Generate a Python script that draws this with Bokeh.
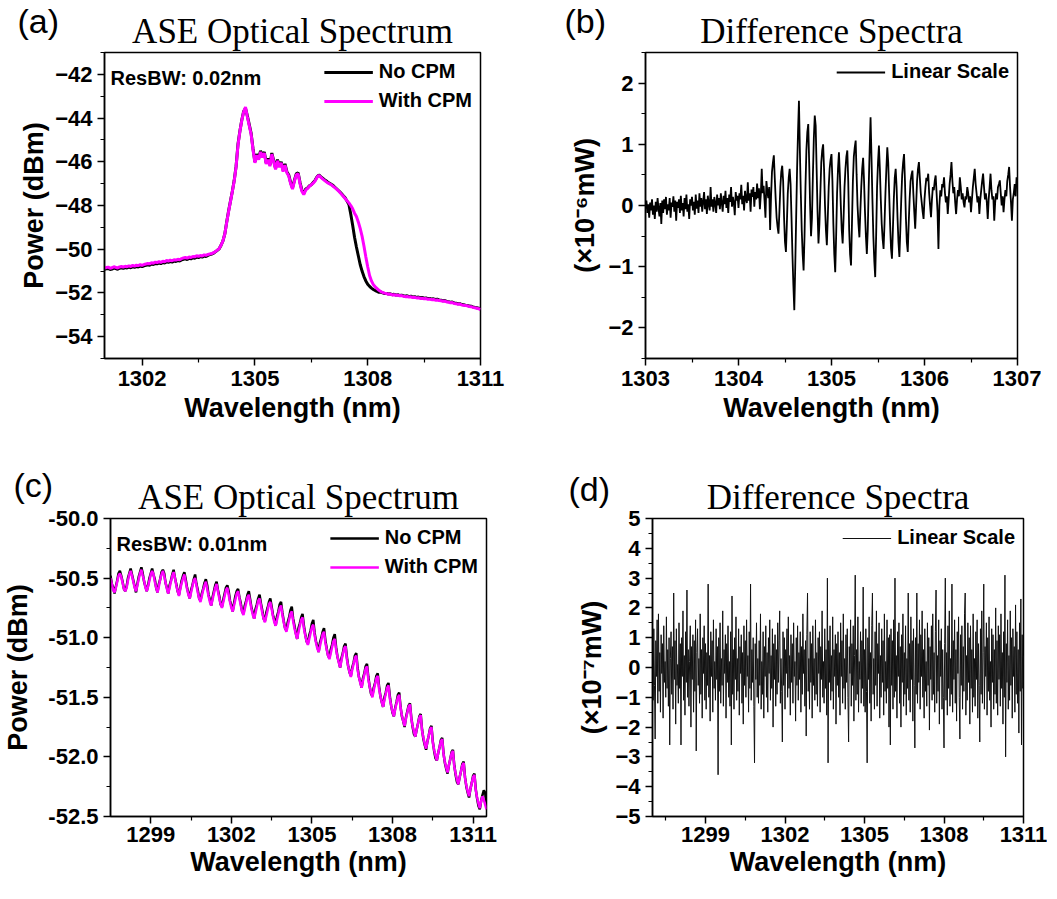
import numpy as np
from bokeh.plotting import figure
from bokeh.layouts import row, column
from bokeh.models import (Range1d, FixedTicker, Label, Legend, LegendItem,
                          NumeralTickFormatter, Title)
from bokeh.embed import file_html
from bokeh.resources import INLINE

# ---------------- data ----------------
# (a) ASE spectrum, 0.02 nm ResBW, sampled 1301..1311 nm every 0.05 nm
A_RANGE = (1301.0, 1311.0)
YA_NO = [
    -50.92, -50.90, -50.88, -50.93, -50.91, -50.86, -50.89, -50.92, -50.87, -50.85,
    -50.88, -50.84, -50.86, -50.82, -50.85, -50.80, -50.83, -50.79, -50.81, -50.77,
    -50.80, -50.76, -50.74, -50.71, -50.73, -50.68, -50.70, -50.65, -50.67, -50.63,
    -50.66, -50.61, -50.63, -50.58, -50.60, -50.56, -50.59, -50.54, -50.56, -50.52,
    -50.54, -50.49, -50.46, -50.44, -50.47, -50.42, -50.44, -50.39, -50.41, -50.36,
    -50.38, -50.34, -50.36, -50.31, -50.33, -50.28, -50.25, -50.22, -50.18, -50.12,
    -50.05, -49.98, -49.82, -49.62, -49.30, -48.75, -48.25, -47.80, -47.35, -46.85,
    -46.20, -45.20, -44.60, -44.10, -43.70, -43.55, -43.90, -44.30, -44.70, -45.40,
    -46.00, -45.65, -45.85, -45.50, -45.75, -45.55, -46.05, -45.85, -46.15, -45.60,
    -45.95, -46.30, -45.90, -46.20, -46.00, -46.40, -46.10, -46.45, -46.60, -46.95,
    -47.20, -46.85, -46.55, -46.50, -46.95, -47.30, -47.45, -47.25, -47.20, -47.10,
    -47.05, -46.95, -46.85, -46.70, -46.60, -46.68, -46.75, -46.82, -46.88, -46.95,
    -47.00, -47.05, -47.12, -47.20, -47.28, -47.36, -47.45, -47.55, -47.65, -47.80,
    -47.95, -48.40, -48.90, -49.45, -49.90, -50.30, -50.70, -51.00, -51.25, -51.45,
    -51.60, -51.70, -51.78, -51.84, -51.89, -51.93, -51.97, -51.96, -52.00, -52.03,
    -52.02, -52.05, -52.04, -52.08, -52.06, -52.10, -52.08, -52.12, -52.10, -52.13,
    -52.15, -52.13, -52.17, -52.15, -52.19, -52.17, -52.21, -52.19, -52.22, -52.21,
    -52.24, -52.23, -52.26, -52.25, -52.28, -52.27, -52.30, -52.29, -52.32, -52.33,
    -52.36, -52.35, -52.39, -52.40, -52.43, -52.42, -52.46, -52.47, -52.50, -52.49,
    -52.53, -52.54, -52.56, -52.57, -52.60, -52.61, -52.64, -52.66, -52.68, -52.70,
    -52.74,
]
YA_CPM = [
    -50.86, -50.84, -50.82, -50.87, -50.85, -50.80, -50.83, -50.86, -50.81, -50.79,
    -50.82, -50.78, -50.80, -50.76, -50.79, -50.74, -50.77, -50.73, -50.75, -50.71,
    -50.74, -50.70, -50.68, -50.65, -50.67, -50.62, -50.64, -50.59, -50.61, -50.57,
    -50.60, -50.55, -50.57, -50.52, -50.54, -50.50, -50.53, -50.48, -50.50, -50.46,
    -50.48, -50.43, -50.40, -50.38, -50.41, -50.36, -50.38, -50.33, -50.35, -50.30,
    -50.33, -50.29, -50.31, -50.26, -50.28, -50.24, -50.22, -50.20, -50.16, -50.11,
    -50.04, -49.97, -49.82, -49.62, -49.30, -48.78, -48.28, -47.82, -47.36, -46.88,
    -46.22, -45.25, -44.62, -44.12, -43.72, -43.50, -43.95, -44.35, -44.75, -45.45,
    -46.05, -45.70, -45.90, -45.55, -45.80, -45.60, -46.10, -45.90, -46.20, -45.65,
    -46.00, -46.35, -45.95, -46.25, -46.05, -46.45, -46.15, -46.50, -46.65, -47.00,
    -47.25, -46.90, -46.60, -46.55, -47.00, -47.35, -47.50, -47.30, -47.22, -47.12,
    -47.05, -46.98, -46.88, -46.72, -46.62, -46.70, -46.78, -46.85, -46.92, -46.98,
    -47.02, -47.08, -47.15, -47.22, -47.30, -47.38, -47.48, -47.58, -47.68, -47.78,
    -47.88, -48.00, -48.15, -48.35, -48.50, -48.75, -49.05, -49.40, -49.85, -50.35,
    -50.80, -51.20, -51.45, -51.62, -51.72, -51.80, -51.88, -51.94, -51.98, -52.01,
    -52.03, -52.06, -52.05, -52.09, -52.08, -52.11, -52.10, -52.13, -52.12, -52.15,
    -52.17, -52.16, -52.19, -52.18, -52.21, -52.20, -52.23, -52.22, -52.25, -52.24,
    -52.27, -52.26, -52.29, -52.28, -52.31, -52.30, -52.33, -52.32, -52.35, -52.36,
    -52.38, -52.37, -52.41, -52.42, -52.45, -52.44, -52.48, -52.49, -52.52, -52.51,
    -52.55, -52.56, -52.58, -52.59, -52.62, -52.63, -52.66, -52.68, -52.70, -52.72,
    -52.76,
]

# (b) difference spectrum (x1e-6 mW), 1303..1307 nm every 0.01 nm
B_RANGE = (1303.0, 1307.0)
YB = [
    -0.05, 0.08, -0.12, 0.02, -0.20, 0.05, -0.08, 0.10, -0.15, 0.00, -0.22, 0.06, -0.10, 0.12, -0.05, -0.18, 0.04, -0.30, 0.08, -0.12,
    0.10, -0.06, 0.14, -0.15, 0.02, -0.08, 0.12, -0.20, 0.05, -0.02, 0.15, -0.10, 0.08, -0.25, 0.06, -0.04, 0.10, -0.12, 0.16, -0.08,
    0.04, -0.18, 0.12, -0.06, 0.18, -0.10, 0.02, -0.22, 0.10, 0.00, 0.14, -0.08, 0.06, -0.15, 0.18, -0.05, 0.08, -0.12, 0.20, -0.02,
    0.12, -0.10, 0.06, 0.22, -0.06, 0.10, -0.14, 0.16, 0.02, -0.08, 0.30, -0.02, 0.10, -0.10, 0.14, 0.04, -0.12, 0.18, 0.00, 0.12,
    -0.06, 0.20, 0.04, -0.10, 0.16, 0.02, 0.24, -0.04, 0.12, -0.12, 0.18, 0.06, 0.30, -0.02, 0.14, 0.04, -0.16, 0.22, 0.08, 0.16,
    -0.04, 0.20, 0.10, 0.34, 0.02, 0.16, -0.08, 0.24, 0.10, 0.04, 0.38, 0.08, 0.20, -0.10, 0.26, 0.14, 0.30, -0.02, 0.22, 0.10,
    0.36, 0.12, 0.28, -0.06, 0.18, 0.60, 0.20, 0.32, 0.08, -0.20, 0.40, 0.24, 0.12, 0.30, -0.40, 0.15, 0.55, 0.70, 0.82, 0.45,
    0.10, -0.20, -0.35, -0.46, -0.10, 0.30, 0.55, 0.65, 0.40, -0.20, -0.60, -0.76, -0.30, 0.20, 0.45, 0.60, 0.35, -0.20, -0.80, -1.30,
    -1.71, -1.00, -0.20, 0.60, 1.20, 1.71, 0.90, 0.20, -0.40, -0.80, -1.06, -0.50, 0.30, 0.90, 1.20, 1.33, 0.70, 0.00, -0.50, -0.20,
    0.50, 1.10, 1.47, 1.30, 0.60, -0.10, -0.62, -0.30, 0.20, 0.70, 0.90, 1.00, 0.60, 0.00, -0.40, -0.65, -0.20, 0.30, 0.60, 0.75,
    0.84, 0.40, -0.30, -0.80, -1.09, -0.50, 0.20, 0.60, 0.87, 0.50, 0.00, -0.40, -0.62, -0.20, 0.30, 0.60, 0.80, 0.90, 0.40, -0.40,
    -0.80, -0.98, -0.30, 0.40, 0.80, 0.95, 1.06, 0.50, 0.00, -0.30, -0.52, -0.10, 0.30, 0.60, 0.78, 0.40, -0.10, -0.50, -0.79, -0.40,
    0.30, 0.90, 1.44, 0.80, 0.10, -0.50, -0.90, -1.17, -0.50, 0.30, 0.70, 0.98, 0.60, 0.10, -0.30, -0.55, -0.71, -0.30, 0.20, 0.60,
    0.95, 0.70, 0.20, -0.30, -0.70, -0.87, -0.40, 0.10, 0.45, 0.60, 0.30, -0.20, -0.60, -0.84, -0.40, 0.10, 0.50, 0.70, 0.84, 0.40,
    -0.20, -0.60, -0.76, -0.30, 0.10, 0.40, 0.50, 0.57, 0.20, -0.10, -0.38, 0.00, 0.40, 0.60, 0.71, 0.45, 0.20, 0.05, -0.10, -0.22,
    0.10, 0.30, 0.45, 0.40, 0.52, 0.20, 0.00, -0.19, 0.10, 0.30, 0.25, 0.40, 0.49, 0.20, -0.10, -0.71, 0.00, 0.25, 0.15, 0.35,
    0.30, 0.46, 0.20, 0.05, 0.15, -0.14, 0.10, 0.35, 0.50, 0.71, 0.40, 0.20, 0.30, 0.05, -0.14, 0.10, 0.25, 0.15, 0.46, 0.30,
    0.10, 0.20, 0.05, -0.03, 0.15, 0.10, 0.30, 0.20, 0.05, 0.15, -0.11, 0.10, 0.30, 0.45, 0.60, 0.35, 0.20, 0.05, 0.15, -0.14,
    0.10, 0.25, 0.40, 0.52, 0.30, 0.10, 0.20, 0.05, -0.22, 0.10, 0.30, 0.52, 0.25, 0.10, 0.15, -0.25, 0.05, 0.20, 0.10, 0.30,
    0.35, 0.41, 0.20, 0.00, 0.15, -0.11, 0.10, 0.25, 0.15, 0.40, 0.50, 0.63, 0.30, 0.05, -0.25, 0.10, 0.20, 0.35, 0.15, 0.46,
    0.30,
]

# (c) ASE spectrum, 0.01 nm ResBW, 1297.5..1311.5 nm every 0.05 nm
C_RANGE = (1297.5, 1311.5)
YC_NO = [
    -50.48, -50.55, -50.58, -50.63, -50.57, -50.52, -50.46, -50.44, -50.48, -50.53, -50.59, -50.61, -50.57, -50.50, -50.46, -50.42,
    -50.47, -50.52, -50.57, -50.62, -50.55, -50.49, -50.45, -50.41, -50.46, -50.53, -50.57, -50.61, -50.56, -50.50, -50.46, -50.42,
    -50.47, -50.51, -50.58, -50.62, -50.55, -50.51, -50.45, -50.43, -50.46, -50.54, -50.58, -50.63, -50.56, -50.52, -50.47, -50.43,
    -50.50, -50.55, -50.61, -50.64, -50.58, -50.52, -50.48, -50.45, -50.51, -50.58, -50.63, -50.67, -50.60, -50.56, -50.51, -50.47,
    -50.55, -50.60, -50.67, -50.69, -50.63, -50.59, -50.54, -50.51, -50.56, -50.64, -50.68, -50.73, -50.66, -50.61, -50.56, -50.53,
    -50.60, -50.65, -50.72, -50.74, -50.68, -50.63, -50.58, -50.56, -50.61, -50.69, -50.73, -50.78, -50.71, -50.65, -50.61, -50.59,
    -50.66, -50.71, -50.78, -50.80, -50.73, -50.69, -50.64, -50.61, -50.68, -50.75, -50.79, -50.84, -50.76, -50.72, -50.67, -50.64,
    -50.71, -50.77, -50.84, -50.86, -50.79, -50.75, -50.70, -50.67, -50.74, -50.81, -50.85, -50.90, -50.82, -50.78, -50.72, -50.70,
    -50.79, -50.86, -50.92, -50.94, -50.87, -50.83, -50.77, -50.74, -50.84, -50.90, -50.96, -51.01, -50.92, -50.88, -50.83, -50.80,
    -50.90, -50.97, -51.03, -51.05, -50.98, -50.94, -50.88, -50.85, -50.96, -51.03, -51.07, -51.12, -51.04, -51.00, -50.95, -50.92,
    -51.02, -51.09, -51.15, -51.17, -51.10, -51.06, -51.00, -50.97, -51.08, -51.16, -51.20, -51.25, -51.17, -51.13, -51.07, -51.05,
    -51.16, -51.24, -51.29, -51.32, -51.25, -51.21, -51.15, -51.13, -51.25, -51.33, -51.37, -51.42, -51.34, -51.30, -51.24, -51.22,
    -51.33, -51.41, -51.47, -51.49, -51.42, -51.38, -51.32, -51.30, -51.41, -51.49, -51.54, -51.58, -51.50, -51.46, -51.40, -51.38,
    -51.49, -51.57, -51.63, -51.66, -51.59, -51.54, -51.48, -51.46, -51.58, -51.66, -51.70, -51.75, -51.67, -51.62, -51.57, -51.55,
    -51.67, -51.75, -51.81, -51.83, -51.77, -51.72, -51.66, -51.64, -51.77, -51.85, -51.90, -51.94, -51.87, -51.82, -51.76, -51.74,
    -51.87, -51.95, -52.01, -52.03, -51.97, -51.92, -51.86, -51.84, -51.97, -52.05, -52.10, -52.14, -52.07, -52.02, -51.96, -51.94,
    -52.07, -52.15, -52.21, -52.23, -52.17, -52.12, -52.06, -52.04, -52.17, -52.25, -52.30, -52.34, -52.27, -52.22, -52.16, -52.14,
    -52.27, -52.35, -52.41, -52.44, -52.37, -52.32, -52.28, -52.30,
    -52.42,
]
YC_CPM = [
    -50.50, -50.55, -50.60, -50.62, -50.58, -50.53, -50.48, -50.46, -50.49, -50.54, -50.59, -50.61, -50.58, -50.52, -50.47, -50.44,
    -50.48, -50.53, -50.58, -50.61, -50.56, -50.51, -50.46, -50.43, -50.48, -50.52, -50.58, -50.61, -50.57, -50.52, -50.47, -50.44,
    -50.47, -50.53, -50.58, -50.62, -50.57, -50.51, -50.47, -50.44, -50.48, -50.54, -50.59, -50.63, -50.58, -50.53, -50.48, -50.45,
    -50.50, -50.56, -50.61, -50.65, -50.59, -50.54, -50.50, -50.47, -50.53, -50.59, -50.64, -50.67, -50.62, -50.57, -50.52, -50.50,
    -50.56, -50.62, -50.67, -50.70, -50.65, -50.60, -50.56, -50.53, -50.59, -50.65, -50.70, -50.73, -50.68, -50.63, -50.58, -50.55,
    -50.61, -50.67, -50.72, -50.75, -50.70, -50.65, -50.60, -50.58, -50.64, -50.70, -50.75, -50.78, -50.73, -50.68, -50.63, -50.61,
    -50.67, -50.73, -50.78, -50.81, -50.76, -50.71, -50.66, -50.64, -50.70, -50.76, -50.81, -50.84, -50.79, -50.74, -50.69, -50.67,
    -50.73, -50.79, -50.84, -50.87, -50.82, -50.77, -50.72, -50.70, -50.76, -50.82, -50.87, -50.90, -50.85, -50.80, -50.75, -50.73,
    -50.81, -50.87, -50.92, -50.95, -50.90, -50.85, -50.80, -50.78, -50.86, -50.92, -50.97, -51.01, -50.95, -50.90, -50.85, -50.83,
    -50.92, -50.98, -51.03, -51.06, -51.01, -50.96, -50.91, -50.89, -50.98, -51.04, -51.09, -51.12, -51.07, -51.02, -50.97, -50.95,
    -51.04, -51.10, -51.15, -51.18, -51.13, -51.08, -51.03, -51.01, -51.10, -51.16, -51.21, -51.25, -51.19, -51.14, -51.09, -51.07,
    -51.18, -51.24, -51.29, -51.33, -51.27, -51.22, -51.17, -51.15, -51.27, -51.33, -51.38, -51.42, -51.36, -51.31, -51.26, -51.24,
    -51.35, -51.41, -51.46, -51.50, -51.44, -51.39, -51.34, -51.32, -51.43, -51.49, -51.54, -51.58, -51.52, -51.47, -51.42, -51.40,
    -51.51, -51.57, -51.62, -51.66, -51.60, -51.55, -51.50, -51.48, -51.59, -51.65, -51.70, -51.74, -51.68, -51.63, -51.58, -51.56,
    -51.68, -51.74, -51.79, -51.83, -51.77, -51.72, -51.67, -51.65, -51.78, -51.84, -51.89, -51.93, -51.87, -51.82, -51.77, -51.75,
    -51.88, -51.94, -51.99, -52.03, -51.97, -51.92, -51.87, -51.85, -51.98, -52.04, -52.09, -52.13, -52.07, -52.02, -51.97, -51.95,
    -52.08, -52.14, -52.19, -52.23, -52.17, -52.12, -52.07, -52.05, -52.18, -52.24, -52.29, -52.33, -52.27, -52.22, -52.17, -52.15,
    -52.28, -52.34, -52.39, -52.43, -52.37, -52.33, -52.36, -52.40,
    -52.44,
]

# (d) difference spectrum (x1e-7 mW), 1297..1311 nm every 0.025 nm
D_RANGE = (1297.0, 1311.0)
YD = [
    0.4, -1.1, 1.3, -0.6, -2.4, 0.9, -0.3, 1.6, -1.2, 1.8, -0.8, 0.5, -1.5, 1.1, -0.2, 0.8, -1.7, 1.4, -0.5, 0.2,
    -1.0, 1.7, -0.7, 0.6, -1.3, 1.0, -2.6, 0.3, 1.2, -0.9, 0.7, -1.4, 2.5, -0.4, 0.9, -1.9, 1.3, -0.6, 0.1, -1.2,
    1.5, -0.7, 0.8, -2.6, 1.0, -0.3, 1.9, -1.1, 0.4, -1.6, 1.2, -0.5, 2.6, -1.0, 0.6, -1.3, 0.2, 1.4, -2.0, 0.7,
    -0.4, 1.1, -1.5, 0.9, -0.8, 1.6, -2.8, 0.5, 1.3, -0.6, 0.3, -1.2, 1.8, -0.9, 0.6, -1.7, 1.0, -0.2, 1.4, -1.1,
    0.8, -1.4, 0.5, -0.6, 2.8, -1.0, 0.4, -1.8, 1.2, -0.3, 0.9, -1.5, 1.6, -0.7, 0.2, -1.1, 1.3, -0.4, 0.7, -3.6,
    1.0, -0.8, 1.5, -1.2, 0.3, -0.6, 1.9, -1.3, 0.6, -0.2, 1.1, -1.7, 0.8, -0.5, 1.4, -1.0, 0.2, -1.3, 1.2, -2.6,
    2.4, -0.9, 0.6, -1.4, 1.0, -0.4, 1.7, -1.1, 0.3, -0.8, 1.3, -1.6, 0.7, -0.2, 1.1, -1.2, 0.5, -1.9, 1.4, -0.6,
    0.9, -1.0, 1.6, -0.3, 0.4, -1.5, 1.2, -0.7, 2.8, -1.1, 0.6, -0.5, 1.0, -1.3, -3.2, 0.8, -0.4, 1.5, -1.0, 0.3,
    -1.2, 0.9, -0.6, 1.8, -1.4, 0.2, -0.9, 1.2, -1.7, 0.7, -0.3, 1.4, -1.0, 0.5, -1.5, 1.0, -0.2, 1.6, -1.1, 0.4,
    -0.7, 1.3, -2.0, 0.8, -0.4, 1.1, -1.3, 0.6, -0.9, 1.5, -0.5, 0.9, 1.9, -1.2, 0.3, -0.8, -2.5, 1.2, -0.6, 1.0,
    -1.4, 0.6, -0.2, 1.3, -1.0, 1.7, -0.7, 0.4, -1.6, 1.1, -0.5, 0.8, -1.2, 1.5, -0.3, 0.2, -1.8, 1.0, -0.6, 1.4,
    -1.1, 0.5, -0.4, 1.2, -1.5, 0.7, -0.9, 1.8, -0.2, 0.6, -1.3, 0.9, -2.3, 1.1, 2.5, -0.8, 0.3, -1.4, 1.2, -0.5,
    0.8, -1.7, 1.4, -0.6, 0.3, -1.1, 1.6, -0.9, 0.5, -1.3, 1.0, -0.2, 1.2, -1.5, 0.7, -0.4, 1.9, -1.0, 0.2, -1.2,
    1.3, -0.7, 0.6, -1.6, 3.0, -3.2, 0.9, -0.5, 1.4, -1.1, 0.4, -0.8, 1.7, -1.4, 0.6, -0.3, 1.1, -1.9, 0.8, -0.6,
    1.2, -1.0, 0.5, -1.6, 1.5, -0.3, 0.9, -1.2, 1.8, -0.7, 0.3, -1.4, 1.1, -0.5, 1.3, -1.0, -2.5, 0.7, -0.2, 1.6,
    -1.3, 0.8, -0.6, 1.4, -1.8, 0.4, 3.1, -1.1, 0.6, -0.9, 1.7, -1.5, 0.2, -0.4, 1.2, -1.2, 0.9, -0.7, 2.7, -1.3,
    0.6, -1.5, 1.3, -0.8, -3.2, 1.0, -0.4, 1.7, -1.2, 0.5, -1.8, 1.4, 2.5, -0.9, 0.3, -1.4, 1.2, -0.6, 1.9, -1.3,
    0.8, -0.2, 1.5, -1.7, 0.4, -1.0, 1.3, -0.5, 0.9, -1.6, 1.8, -0.8, 0.2, -1.2, 1.6, -0.7, 1.0, -2.0, 1.1, -2.6,
    1.3, -0.6, 0.9, -1.4, 1.6, -1.0, 3.0, -0.8, 0.4, -1.7, 1.2, -0.3, 1.5, -1.2, 0.7, -2.0, 1.1, -0.5, 1.8, -1.3,
    0.5, -0.9, 1.4, -1.6, 0.3, -0.7, 2.5, -1.1, 0.8, -1.5, 1.7, -0.4, 0.9, -1.8, 1.3, -0.6, -2.7, 1.0, -0.9, 2.5,
    -1.2, 0.8, -0.5, 1.6, -1.4, 1.1, -0.3, 1.9, -1.0, 0.6, -1.7, 1.3, -0.8, 0.2, -1.3, 1.5, -0.6, 1.0, -2.1, 0.7,
    -0.4, 1.4, -1.1, 1.8, -0.9, 0.5, -1.5, 1.2, 2.6, -1.2, 0.4, -0.8, 1.6, -1.9, 0.9, -0.3, 1.3, -1.4, 0.6, -1.0,
    -2.7, 0.8, 3.0, -1.1, 0.5, -1.6, 1.4, -0.7, 1.9, -1.3, 0.3, -0.9, 2.8, -1.5, 0.9, -0.4, 1.6, -1.2, 0.6, -1.8,
    1.2, -0.2, 1.7, -1.0, -2.4, 1.1, -0.6, 1.4, -1.4, 0.7, -0.8, 1.8, 2.5, -1.6, 0.4, -1.1, 1.5, -0.5, 1.0, -1.9,
    1.4, -0.7, 0.6, -1.5, 1.8, -1.0, 0.3, -1.3, 1.2, -0.4, 1.6, -1.7, 0.8, -0.6, -2.5, 1.3, -0.9, 1.9, -1.2, 0.5,
    2.8, -1.4, 0.7, -0.3, 1.5, -1.6, 1.0, -0.8, 1.7, -1.1, 0.2, -2.0, 1.3, -0.5, 1.1, -1.4, 0.6, -0.9, 2.0, -1.2,
    0.9, -1.6, 1.4, -0.4, 1.1, -1.3, 1.8, -0.7, 0.5, -1.9, 1.2, -1.0, 3.1, -3.0, 0.8, -0.5, 1.6, -1.4, 0.4, -1.1,
    1.9, -0.6, 1.0, -1.7, 1.3, -0.3, 0.7, -1.5, 2.1, -0.9, 1.2, -1.2, 0.6, -2.2, 1.5, -0.8, 2.3, -2.6, 1.1, -0.7,
    0.4,
]

# tick labels
A_XTICKS = [1302, 1305, 1308, 1311]
A_YTICKS = [-54, -52, -50, -48, -46, -44, -42]
B_XTICKS = [1303, 1304, 1305, 1306, 1307]
B_YTICKS = [-2, -1, 0, 1, 2]
C_XTICKS = [1299, 1302, 1305, 1308, 1311]
C_YTICKS = [-52.5, -52.0, -51.5, -51.0, -50.5, -50.0]
D_XTICKS = [1299, 1302, 1305, 1308, 1311]
D_YTICKS = [-5, -4, -3, -2, -1, 0, 1, 2, 3, 4, 5]

# ---------------- styling ----------------
SANS = "Liberation Sans"
SERIF = "Liberation Serif"
MAGENTA = "#FF00FF"


def grid(rng, ys):
    return np.linspace(rng[0], rng[1], len(ys))


def make_fig(fw, fh, bl, br, bt, bb, xr, yr):
    p = figure(frame_width=fw, frame_height=fh,
               min_border_left=bl, min_border_right=br,
               min_border_top=bt, min_border_bottom=bb,
               x_range=Range1d(*xr), y_range=Range1d(*yr),
               title=None, output_backend="svg", toolbar_location=None)
    p.xgrid.visible = False
    p.ygrid.visible = False
    p.outline_line_color = "black"
    p.outline_line_width = 1.5
    p.outline_line_alpha = 1.0
    p.background_fill_color = "white"
    p.border_fill_color = "white"
    return p


def style_axes(p, xticks, xminor, yticks, yminor, xlabel, ylabel,
               ylab_standoff, xlab_standoff, xtick_standoff):
    p.xaxis.ticker = FixedTicker(ticks=xticks, minor_ticks=xminor)
    p.yaxis.ticker = FixedTicker(ticks=yticks, minor_ticks=yminor)
    p.xaxis.axis_label = xlabel
    p.yaxis.axis_label = ylabel
    for ax in list(p.xaxis) + list(p.yaxis):
        ax.axis_line_width = 1.5
        ax.axis_line_color = "black"
        ax.major_tick_line_width = 1.5
        ax.minor_tick_line_width = 1.2
        ax.major_tick_line_color = "black"
        ax.minor_tick_line_color = "black"
        ax.major_tick_out = 7
        ax.major_tick_in = 0
        ax.minor_tick_out = 4
        ax.minor_tick_in = 0
        ax.major_label_text_font = SANS
        ax.major_label_text_font_size = "22px"
        ax.major_label_text_font_style = "bold"
        ax.major_label_text_color = "black"
        ax.axis_label_text_font = SANS
        ax.axis_label_text_font_size = "27px"
        ax.axis_label_text_font_style = "bold"
        ax.axis_label_text_color = "black"
    p.yaxis.major_label_standoff = 5
    p.xaxis.major_label_standoff = xtick_standoff
    p.xaxis.axis_label_standoff = xlab_standoff
    p.yaxis.axis_label_standoff = ylab_standoff


def add_titles(p, letter, title, letter_offset, title_standoff, letter_standoff):
    p.add_layout(Title(text=title, align="center", text_font=SERIF,
                       text_font_size="35px", text_font_style="normal",
                       text_color="black", standoff=title_standoff), "above")
    p.add_layout(Title(text=letter, align="left", offset=letter_offset,
                       text_font=SANS, text_font_size="34px",
                       text_font_style="normal", text_color="black",
                       standoff=letter_standoff), "above")


def add_legend(p, items):
    leg = Legend(items=[LegendItem(label=t, renderers=[r]) for t, r in items],
                 location="top_right", border_line_alpha=0,
                 background_fill_alpha=0, label_text_font=SANS,
                 label_text_font_size="20px", label_text_font_style="bold",
                 label_text_color="black", glyph_width=49, glyph_height=20,
                 label_height=20, spacing=6, padding=6, margin=2,
                 label_standoff=6)
    p.add_layout(leg)


def add_resbw(p, fh, text):
    p.add_layout(Label(x=6, y=fh - 25, x_units="screen", y_units="screen",
                       text=text, text_font=SANS, text_font_size="20px",
                       text_font_style="bold", text_baseline="alphabetic",
                       text_color="black"))


# ---------------- layout numbers ----------------
FH_T, FH_B = 306, 298

# ---------------- (a) ----------------
pa = make_fig(376, FH_T, 104, 55, 52, 72, A_RANGE, (-55, -41))
xa = grid(A_RANGE, YA_NO)
ra1 = pa.line(xa, YA_NO, line_color="black", line_width=3)
ra2 = pa.line(xa, YA_CPM, line_color=MAGENTA, line_width=3)
style_axes(pa, A_XTICKS, [1303.5, 1306.5, 1309.5], A_YTICKS,
           [-55, -53, -51, -49, -47, -45, -43, -41],
           "Wavelength (nm)", "Power (dBm)", 3, 4, 5)
add_legend(pa, [("No CPM", ra1), ("With CPM", ra2)])
add_resbw(pa, FH_T, "ResBW: 0.02nm")
add_titles(pa, "(a)", "ASE Optical Spectrum", -87, 3, -62)

# ---------------- (b) ----------------
pb = make_fig(372, FH_T, 110, 24, 52, 72, B_RANGE, (-2.5, 2.5))
xb = grid(B_RANGE, YB)
rb = pb.line(xb, YB, line_color="black", line_width=1.8)
style_axes(pb, B_XTICKS, [1303.5, 1304.5, 1305.5, 1306.5], B_YTICKS,
           [-2.5, -1.5, -0.5, 0.5, 1.5, 2.5],
           "Wavelength (nm)", "(×10⁻⁶mW)", 5, 4, 5)
add_legend(pb, [("Linear Scale", rb)])
add_titles(pb, "(b)", "Difference Spectra", -81, 3, -62)

# ---------------- (c) ----------------
pc = make_fig(376, FH_B, 104, 55, 88, 67, C_RANGE, (-52.5, -50.0))
xc = grid(C_RANGE, YC_NO)
rc1 = pc.line(xc, YC_NO, line_color="black", line_width=2.5)
rc2 = pc.line(xc, YC_CPM, line_color=MAGENTA, line_width=2.5)
style_axes(pc, C_XTICKS, [1300.5, 1303.5, 1306.5, 1309.5], C_YTICKS,
           [-52.25, -51.75, -51.25, -50.75, -50.25],
           "Wavelength (nm)", "Power (dBm)", 12, 2, 3)
pc.yaxis.formatter = NumeralTickFormatter(format="0.0")
add_legend(pc, [("No CPM", rc1), ("With CPM", rc2)])
add_resbw(pc, FH_B, "ResBW: 0.01nm")
add_titles(pc, "(c)", "ASE Optical Spectrum", -97, 3, -59)

# ---------------- (d) ----------------
pd_ = make_fig(371, FH_B, 111, 24, 88, 67, D_RANGE, (-5, 5))
xd = grid(D_RANGE, YD)
rd = pd_.line(xd, YD, line_color="#111111", line_width=1.0)
style_axes(pd_, D_XTICKS, [1297.5, 1300.5, 1303.5, 1306.5, 1309.5], D_YTICKS,
           [-4.5, -3.5, -2.5, -1.5, -0.5, 0.5, 1.5, 2.5, 3.5, 4.5],
           "Wavelength (nm)", "(×10⁻⁷mW)", 5, 2, 3)
add_legend(pd_, [("Linear Scale", rd)])
add_titles(pd_, "(d)", "Difference Spectra", -84, 3, -66)

layout = column(row(pa, pb), row(pc, pd_))

with open("out.html", "w") as f:
    f.write(file_html(layout, INLINE, "ASE spectra"))
